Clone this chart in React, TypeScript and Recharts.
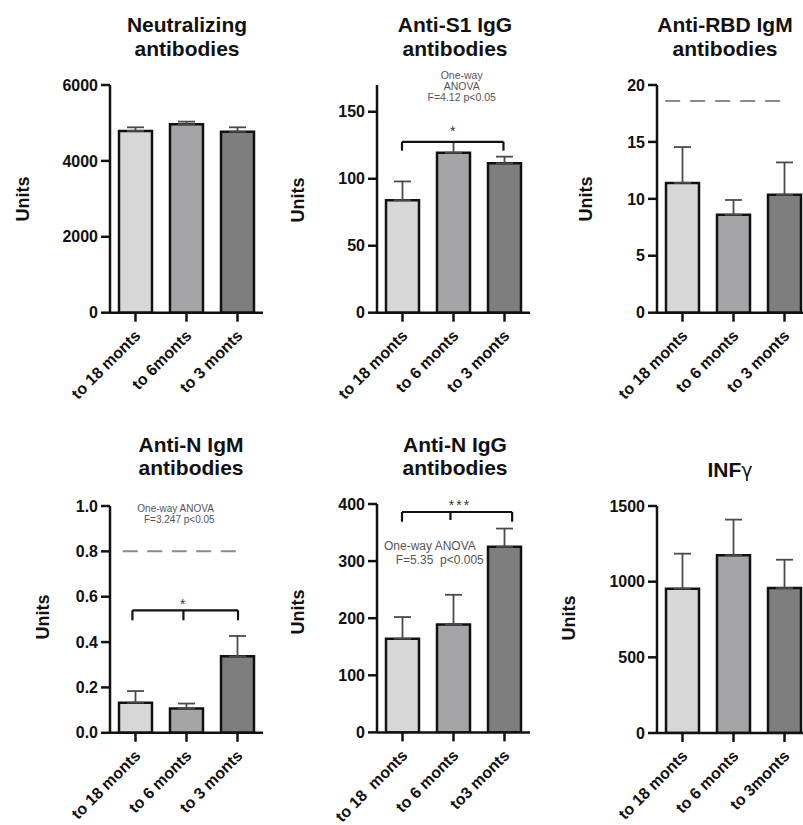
import React from 'react';
import { BarChart, Bar, XAxis, YAxis, Cell, ErrorBar, ReferenceLine } from 'recharts';

const FONT = '"Liberation Sans", Arial, Helvetica, sans-serif';
const INK = '#111';

// bar fill per group (oldest -> newest)
const groupColors = ['#d7d7d7', '#a5a5a8', '#7e7e7e'];

// Neutralizing antibodies
const neutralCats = ['to 18 monts', 'to 6monts', 'to 3 monts'];
const neutralMean = [4790, 4965, 4770];
const neutralSd = [95, 70, 115];
const neutralTicks = [0, 2000, 4000, 6000];

// Anti-S1 IgG
const s1Cats = ['to 18 monts', 'to 6 monts', 'to 3 monts'];
const s1Mean = [84, 119.4, 111.5];
const s1Sd = [14, 8, 5];
const s1Ticks = [0, 50, 100, 150];
const s1Bracket = 127.6;

// Anti-RBD IgM
const rbdCats = ['to 18 monts', 'to 6 monts', 'to 3 monts'];
const rbdMean = [11.4, 8.6, 10.35];
const rbdSd = [3.15, 1.3, 2.85];
const rbdTicks = [0, 5, 10, 15, 20];
const rbdCutoff = 18.6;

// Anti-N IgM
const nIgmCats = ['to 18 monts', 'to 6 monts', 'to 3 monts'];
const nIgmMean = [0.133, 0.107, 0.337];
const nIgmSd = [0.051, 0.022, 0.09];
const nIgmTicks = [0, 0.2, 0.4, 0.6, 0.8, 1.0];
const nIgmCutoff = 0.8;
const nIgmBracket = 0.54;

// Anti-N IgG
const nIggCats = ['to 18  monts', 'to 6 monts', 'to3 monts'];
const nIggMean = [164, 189, 325];
const nIggSd = [38, 52, 32];
const nIggTicks = [0, 100, 200, 300, 400];
const nIggBracket = 386;

// INF gamma
const infCats = ['to 18 monts', 'to 6 monts', 'to 3monts'];
const infMean = [954, 1174, 958];
const infSd = [231, 236, 187];
const infTicks = [0, 500, 1000, 1500];

const CatTick = ({ x, y, payload }: any) => {
  const ax = x + 6;
  const ay = y + 13;
  return (
    <text
      x={ax}
      y={ay}
      transform={`rotate(-45, ${ax}, ${ay})`}
      textAnchor="end"
      fontSize={16}
      fontWeight="bold"
      fontFamily={FONT}
      fill={INK}
      style={{ whiteSpace: 'pre' }}
    >
      {payload.value}
    </text>
  );
};

const axisStroke = { stroke: INK, strokeWidth: 2.5 };

interface PanelProps {
  left: number;
  top: number;
  height: number;
  cats: string[];
  mean: number[];
  sd: number[];
  domain: [number, number];
  ticks: number[];
  fmt?: (v: number) => string;
  children?: React.ReactNode;
}

const Panel = ({ left, top, height, cats, mean, sd, domain, ticks, fmt, children }: PanelProps) => {
  const data = cats.map((name, i) => ({
    name,
    slot: i + 0.5,
    value: mean[i],
    outline: mean[i],
    err: [0, sd[i]],
  }));
  return (
    <div style={{ position: 'absolute', left, top }}>
      <BarChart
        width={223}
        height={height + 12}
        data={data}
        margin={{ top: 10, right: 10, bottom: 0, left: 0 }}
        barSize={33}
        barGap={-33}
      >
        <XAxis
          dataKey="name"
          interval={0}
          height={102}
          tickSize={9}
          tickMargin={2}
          axisLine={axisStroke}
          tickLine={axisStroke}
          tick={(p: any) => <CatTick {...p} />}
        />
        {/* hidden helper axis: one unit per category, used to place brackets and cut-off lines */}
        <XAxis xAxisId="n" dataKey="slot" type="number" domain={[0, 3]} allowDataOverflow hide />
        <YAxis
          domain={domain}
          ticks={ticks}
          interval={0}
          allowDataOverflow
          width={60}
          tickSize={9}
          tickMargin={3}
          tickFormatter={fmt}
          axisLine={axisStroke}
          tickLine={axisStroke}
          tick={{ fill: INK, fontSize: 16, fontWeight: 'bold', fontFamily: FONT }}
        />
        <Bar dataKey="value" isAnimationActive={false} stroke="none">
          {data.map((d, i) => (
            <Cell key={d.name} fill={groupColors[i]} />
          ))}
          <ErrorBar dataKey="err" direction="y" width={8.5} stroke="#4a4a4a" strokeWidth={1.8} />
        </Bar>
        {/* outline drawn over the error bar base */}
        <Bar dataKey="outline" isAnimationActive={false} fill="none" stroke={INK} strokeWidth={2.5} />
        {children}
      </BarChart>
    </div>
  );
};

const seg = (x1: number, y1: number, x2: number, y2: number, key: string, extra: any = {}) => (
  <ReferenceLine
    key={key}
    xAxisId="n"
    segment={[{ x: x1, y: y1 }, { x: x2, y: y2 }]}
    stroke={INK}
    strokeWidth={2.2}
    ifOverflow="visible"
    {...extra}
  />
);

const Title = ({ cx, baseline, lines }: { cx: number; baseline: number; lines: React.ReactNode[] }) => (
  <div
    style={{
      position: 'absolute',
      left: cx - 120,
      top: baseline - 19,
      width: 240,
      textAlign: 'center',
      fontSize: 21,
      lineHeight: '23.5px',
      fontWeight: 'bold',
      color: INK,
    }}
  >
    {lines.map((l, i) => (
      <div key={i}>{l}</div>
    ))}
  </div>
);

const Units = ({ cx, cy }: { cx: number; cy: number }) => (
  <div
    style={{
      position: 'absolute',
      left: cx - 40,
      top: cy - 11,
      width: 80,
      height: 22,
      lineHeight: '22px',
      textAlign: 'center',
      transform: 'rotate(-90deg)',
      fontSize: 18,
      fontWeight: 'bold',
      color: INK,
    }}
  >
    Units
  </div>
);

const Note = ({ left, top, size, text, center, lh }: any) => (
  <div
    style={{
      position: 'absolute',
      left: center ? left - 60 : left,
      width: center ? 120 : undefined,
      textAlign: center ? 'center' : 'left',
      top,
      fontSize: size,
      lineHeight: `${lh ?? size + 0.5}px`,
      color: '#555',
      whiteSpace: 'pre',
    }}
  >
    {text}
  </div>
);

const Stars = ({ cx, cy, text, size }: any) => (
  <div
    style={{
      position: 'absolute',
      left: cx - 30,
      width: 60,
      top: cy - 4,
      textAlign: 'center',
      fontSize: size,
      lineHeight: `${size}px`,
      color: '#333',
      letterSpacing: text.length > 1 ? 2 : 0,
    }}
  >
    {text}
  </div>
);

export default function App() {
  return (
    <div
      style={{
        position: 'absolute',
        left: 0,
        top: 0,
        width: 803,
        height: 825,
        overflow: 'hidden',
        background: '#fff',
        fontFamily: FONT,
      }}
    >
      <Panel left={50} top={75} height={327.7} cats={neutralCats} mean={neutralMean} sd={neutralSd} domain={[0, 6000]} ticks={neutralTicks} />
      <Panel left={317} top={75} height={327.7} cats={s1Cats} mean={s1Mean} sd={s1Sd} domain={[0, 170]} ticks={s1Ticks}>
        {[
          seg(0.49, s1Bracket, 2.48, s1Bracket, 'a'),
          seg(0.49, s1Bracket, 0.49, 121, 'b'),
          seg(2.48, s1Bracket, 2.48, 121, 'c'),
        ]}
      </Panel>
      <Panel left={596.7} top={75} height={327.7} cats={rbdCats} mean={rbdMean} sd={rbdSd} domain={[0, 20]} ticks={rbdTicks}>
        {[seg(0.16, rbdCutoff, 2.42, rbdCutoff, 'd', { stroke: '#8a8a8a', strokeWidth: 2, strokeDasharray: '15 10' })]}
      </Panel>
      <Panel
        left={50}
        top={495.7}
        height={326.8}
        cats={nIgmCats}
        mean={nIgmMean}
        sd={nIgmSd}
        domain={[0, 1]}
        ticks={nIgmTicks}
        fmt={(v: number) => v.toFixed(1)}
      >
        {[
          seg(0.25, nIgmCutoff, 2.55, nIgmCutoff, 'd', { stroke: '#8a8a8a', strokeWidth: 2, strokeDasharray: '15 9.5' }),
          seg(0.44, nIgmBracket, 2.51, nIgmBracket, 'a'),
          seg(0.44, nIgmBracket, 0.44, 0.496, 'b'),
          seg(1.44, nIgmBracket, 1.44, 0.496, 'm'),
          seg(2.51, nIgmBracket, 2.51, 0.496, 'c'),
        ]}
      </Panel>
      <Panel left={317.3} top={494.3} height={328.4} cats={nIggCats} mean={nIggMean} sd={nIggSd} domain={[0, 400]} ticks={nIggTicks}>
        {[
          seg(0.49, nIggBracket, 2.65, nIggBracket, 'a'),
          seg(0.49, nIggBracket, 0.49, 369, 'b'),
          seg(1.44, nIggBracket, 1.44, 372, 'm'),
          seg(2.65, nIggBracket, 2.65, 369, 'c'),
        ]}
      </Panel>
      <Panel left={597.3} top={495.7} height={327} cats={infCats} mean={infMean} sd={infSd} domain={[0, 1500]} ticks={infTicks} />

      <Title cx={187} baseline={32.3} lines={['Neutralizing', 'antibodies']} />
      <Title cx={455} baseline={32.3} lines={['Anti-S1 IgG', 'antibodies']} />
      <Title cx={725} baseline={32.3} lines={['Anti-RBD IgM', 'antibodies']} />
      <Title cx={191} baseline={451.7} lines={['Anti-N IgM', 'antibodies']} />
      <Title cx={455} baseline={451.7} lines={['Anti-N IgG', 'antibodies']} />
      <Title
        cx={730}
        baseline={476.7}
        lines={[
          <>
            INF<span style={{ fontFamily: '"DejaVu Sans", sans-serif', fontWeight: 'normal', fontSize: 19 }}>γ</span>
          </>,
        ]}
      />

      <Units cx={22.5} cy={199} />
      <Units cx={297.5} cy={200} />
      <Units cx={586} cy={199} />
      <Units cx={43.3} cy={616.7} />
      <Units cx={298} cy={611.7} />
      <Units cx={569} cy={618.3} />

      <Note left={461.7} top={69.9} size={10.5} center text={'One-way\nANOVA\nF=4.12 p<0.05'} />
      <Stars cx={452.7} cy={128.3} text="*" size={14} />

      <Note left={137.3} top={504} size={10} lh={10} text="One-way ANOVA" />
      <Note left={144} top={515} size={10} lh={10} text="F=3.247 p<0.05" />
      <Stars cx={182.7} cy={600.7} text="*" size={14} />

      <Note left={384} top={540} size={12} text="One-way ANOVA" />
      <Note left={395.7} top={554} size={12} text="F=5.35  p<0.005" />
      <Stars cx={460} cy={501.7} text="***" size={14} />
    </div>
  );
}
